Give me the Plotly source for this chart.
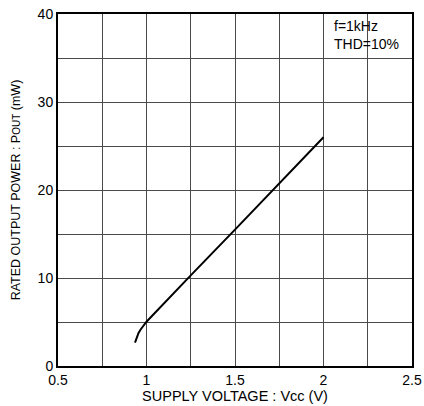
import plotly.graph_objects as go

# Data
vcc = [0.935, 0.945, 0.955, 0.967, 0.98, 0.99, 1.0, 1.02, 1.05, 1.25, 1.5, 1.75, 2.0]
pout = [2.65, 3.3, 3.75, 4.15, 4.55, 4.8, 5.03, 5.45, 6.07, 10.3, 15.5, 20.8, 26.0]

x_ticks = [0.5, 1, 1.5, 2, 2.5]
x_tick_labels = ["0.5", "1", "1.5", "2", "2.5"]
y_ticks = [0, 10, 20, 30, 40]
y_tick_labels = ["0", "10", "20", "30", "40"]

fig = go.Figure()
fig.add_trace(go.Scatter(x=vcc, y=pout, mode="lines", line=dict(color="black", width=2),
                         hoverinfo="skip", showlegend=False))

font = "Liberation Sans, Arial, sans-serif"
grid = "#4a4a4a"

fig.update_layout(
    width=424, height=406,
    margin=dict(l=58, r=12, t=14, b=40),
    paper_bgcolor="white", plot_bgcolor="white",
    font=dict(family=font, color="black", size=13),
    showlegend=False,
    xaxis=dict(range=[0.5, 2.5], tickvals=x_ticks, ticktext=x_tick_labels,
               showgrid=True, gridcolor=grid, gridwidth=1,
               minor=dict(dtick=0.25, showgrid=True, gridcolor=grid, gridwidth=1, tick0=0.5),
               showline=True, linecolor="black", linewidth=2, mirror=True,
               ticks="", zeroline=False, automargin=False,
               title=dict(text="SUPPLY VOLTAGE : Vcc (V)", font=dict(size=14.5), standoff=2),
               tickfont=dict(size=14)),
    yaxis=dict(range=[0, 40], tickvals=y_ticks, ticktext=y_tick_labels,
               showgrid=True, gridcolor=grid, gridwidth=1,
               minor=dict(dtick=5, showgrid=True, gridcolor=grid, gridwidth=1, tick0=0),
               showline=True, linecolor="black", linewidth=2, mirror=True,
               ticks="", zeroline=False, automargin=False,
               title=dict(text="RATED OUTPUT POWER : P<span style='font-size:10px'>OUT</span> (mW)",
                          font=dict(size=12.5), standoff=14),
               tickfont=dict(size=14)),
)

fig.add_annotation(xref="paper", yref="paper", x=0.775, y=0.995, xanchor="left", yanchor="top",
                   text="f=1kHz<br>THD=10%", showarrow=False, align="left",
                   font=dict(size=14, family=font))

fig.write_html("out.html", config={"displayModeBar": False},
               post_script="document.body.style.margin='0';document.body.style.overflow='hidden';")
